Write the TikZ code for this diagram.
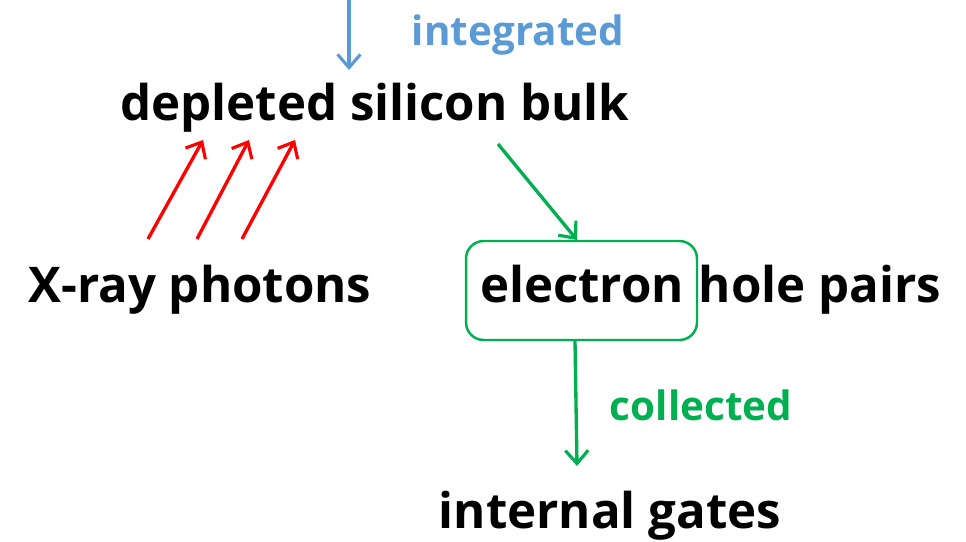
\documentclass[tikz,border=0pt]{standalone}
\usepackage{fontspec}
\setmainfont{Open Sans}
\usetikzlibrary{arrows.meta, positioning}
\definecolor{rayred}{RGB}{255,0,0}
\definecolor{pairgreen}{RGB}{0,176,80}
\definecolor{intblue}{RGB}{91,155,213}
\tikzset{
  term/.style={anchor=base, inner sep=0pt, text=black,
    font=\fontsize{28}{33}\selectfont\bfseries},
  tag/.style={anchor=base, inner sep=0pt,
    font=\fontsize{23}{28}\selectfont\bfseries},
  arrow/.style={-{Straight Barb[length=7.5pt, width=13pt, line width=1.8pt]}, line width=1.9pt},
  pairbox/.style={rectangle, draw=pairgreen, line width=1.4pt,
    rounded corners=10pt, minimum width=4.62cm, minimum height=1.98cm, inner sep=0pt}
}
\begin{document}
\begin{tikzpicture}[x=0.02cm, y=-0.02cm]
  \useasboundingbox (0,0) rectangle (966,541);

  % Terms
  \node[term] (bulk) at (375, 120) {depleted silicon bulk};
  \node[term] (xray) at (200, 302) {X-ray photons};
  \node[pairbox] (box) at (581.5, 290.5) {};
  \node[term] (electron) at (582, 302) {electron};
  \node[term] (hole) at (820, 302) {hole pairs};
  \node[term] (gates) at (610, 528) {internal gates};

  % Labels
  \node[tag, text=intblue] (integ) at (518, 45) {integrated};
  \node[tag, text=pairgreen] (coll) at (701, 420) {collected};

  % Arrow ends
  \coordinate (top) at (349, 0);
  \coordinate (topend) at (349, 70);
  \coordinate (ra) at (148, 239);
  \coordinate (rb) at (197, 239);
  \coordinate (rc) at (242, 239);
  \coordinate (ta) at (203, 140);
  \coordinate (tb) at (249, 140);
  \coordinate (tc) at (295, 140);
  \coordinate (gs) at (498, 144);
  \coordinate (ge) at (577, 240);
  \coordinate (ds) at (575, 341);
  \coordinate (de) at (577, 466);

  % Connections
  \draw[arrow, intblue] (top) -- (topend);
  \draw[arrow, rayred] (ra) -- (ta);
  \draw[arrow, rayred] (rb) -- (tb);
  \draw[arrow, rayred] (rc) -- (tc);
  \draw[arrow, pairgreen] (gs) -- (ge);
  \draw[arrow, pairgreen] (ds) -- (de);
\end{tikzpicture}
\end{document}
